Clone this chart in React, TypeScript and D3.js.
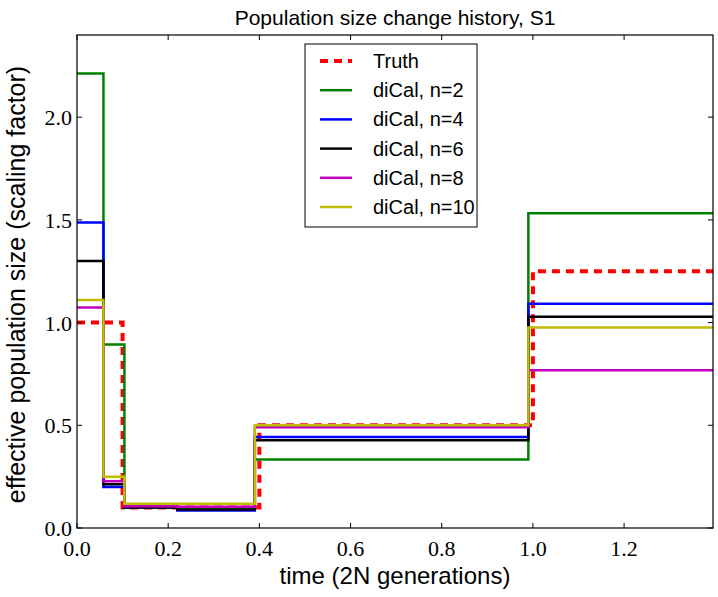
import React from "react";
import * as d3 from "d3";

const W = 718;
const H = 597;
const M = { left: 77, right: 5, top: 35, bottom: 69 };

const stepTimes = [0, 0.058, 0.104, 0.22, 0.39, 0.99, 1.395];
const truthTimes = [0, 0.1, 0.4, 1.0, 1.395];
const truthValues = [1.0, 0.1, 0.5, 1.25];
const n2Values = [2.212, 0.893, 0.102, 0.097, 0.333, 1.532];
const n4Values = [1.487, 0.2, 0.1, 0.085, 0.443, 1.092];
const n6Values = [1.3, 0.213, 0.1, 0.09, 0.427, 1.029];
const n8Values = [1.073, 0.228, 0.106, 0.104, 0.49, 0.768];
const n10Values = [1.11, 0.249, 0.118, 0.118, 0.5, 0.976];

const xTicks = [0, 0.2, 0.4, 0.6, 0.8, 1.0, 1.2];
const yTicks = [0, 0.5, 1.0, 1.5, 2.0];

const series = [
  { name: "Truth", times: truthTimes, values: truthValues, color: "#ff0000", width: 4, dash: "8,6" },
  { name: "diCal, n=2", times: stepTimes, values: n2Values, color: "#008000", width: 2.5, dash: null },
  { name: "diCal, n=4", times: stepTimes, values: n4Values, color: "#0000ff", width: 2.5, dash: null },
  { name: "diCal, n=6", times: stepTimes, values: n6Values, color: "#000000", width: 2.5, dash: null },
  { name: "diCal, n=8", times: stepTimes, values: n8Values, color: "#bf00bf", width: 2.5, dash: null },
  { name: "diCal, n=10", times: stepTimes, values: n10Values, color: "#bfbf00", width: 2.5, dash: null },
];

const drawOrder = [0, 1, 2, 3, 4, 5];

export default function App() {
  const x = d3.scaleLinear().domain([0, 1.395]).range([M.left, W - M.right]);
  const y = d3.scaleLinear().domain([0, 2.4]).range([H - M.bottom, M.top]);
  const line = d3
    .line<[number, number]>()
    .x((d) => x(d[0]))
    .y((d) => y(d[1]))
    .curve(d3.curveStepAfter);

  const pts = (s: typeof series[number]) => {
    const p: [number, number][] = s.values.map((v, i) => [s.times[i], v]);
    p.push([s.times[s.times.length - 1], s.values[s.values.length - 1]]);
    return p;
  };

  const serif = "'Liberation Serif', 'DejaVu Serif', serif";
  const sans = "'Liberation Sans', Arial, sans-serif";
  const x0 = M.left, x1 = W - M.right, y0 = H - M.bottom, y1 = M.top;
  const tl = 5;

  const lgX = 305, lgY = 44, lgW = 172, lgH = 183;

  return (
    <svg width={W} height={H} style={{ position: "absolute", left: 0, top: 0, background: "#fff" }}>
      <defs>
        <clipPath id="plot">
          <rect x={x0} y={y1} width={x1 - x0} height={y0 - y1} />
        </clipPath>
      </defs>
      <rect x={0} y={0} width={W} height={H} fill="#fff" />
      <g clipPath="url(#plot)">
        {drawOrder.map((i) => {
          const s = series[i];
          return (
            <path
              key={s.name}
              d={line(pts(s)) || ""}
              fill="none"
              stroke={s.color}
              strokeWidth={s.width}
              strokeDasharray={s.dash || undefined}
              strokeLinejoin="miter"
            />
          );
        })}
      </g>
      <rect x={x0} y={y1} width={x1 - x0} height={y0 - y1} fill="none" stroke="#000" strokeWidth={1.2} />
      {xTicks.map((t) => (
        <g key={"x" + t}>
          <line x1={x(t)} x2={x(t)} y1={y0} y2={y0 - tl} stroke="#000" />
          <line x1={x(t)} x2={x(t)} y1={y1} y2={y1 + tl} stroke="#000" />
          <text x={x(t)} y={y0 + 28} textAnchor="middle" fontFamily={serif} fontSize={22}>
            {t.toFixed(1)}
          </text>
        </g>
      ))}
      {yTicks.map((t) => (
        <g key={"y" + t}>
          <line x1={x0} x2={x0 + tl} y1={y(t)} y2={y(t)} stroke="#000" />
          <line x1={x1} x2={x1 - tl} y1={y(t)} y2={y(t)} stroke="#000" />
          <text x={x0 - 5} y={y(t) + 8} textAnchor="end" fontFamily={serif} fontSize={22}>
            {t.toFixed(1)}
          </text>
        </g>
      ))}
      <text x={(x0 + x1) / 2} y={25} textAnchor="middle" fontFamily={sans} fontSize={21}>
        Population size change history, S1
      </text>
      <text x={(x0 + x1) / 2} y={584} textAnchor="middle" fontFamily={sans} fontSize={24}>
        time (2N generations)
      </text>
      <text
        transform={`translate(25, ${(y0 + y1) / 2 + 3}) rotate(-90)`}
        textAnchor="middle"
        fontFamily={sans}
        fontSize={25}
      >
        effective population size (scaling factor)
      </text>
      <rect x={lgX} y={lgY} width={lgW} height={lgH} fill="#fff" stroke="#000" strokeWidth={1} />
      {series.map((s, i) => {
        const ly = lgY + 17 + i * 29.2;
        return (
          <g key={"lg" + s.name}>
            <line
              x1={lgX + 15}
              x2={lgX + 47}
              y1={ly}
              y2={ly}
              stroke={s.color}
              strokeWidth={s.dash ? 4 : 2.5}
              strokeDasharray={s.dash || undefined}
            />
            <text x={lgX + 68} y={ly + 7} fontFamily={sans} fontSize={20}>
              {s.name}
            </text>
          </g>
        );
      })}
    </svg>
  );
}
